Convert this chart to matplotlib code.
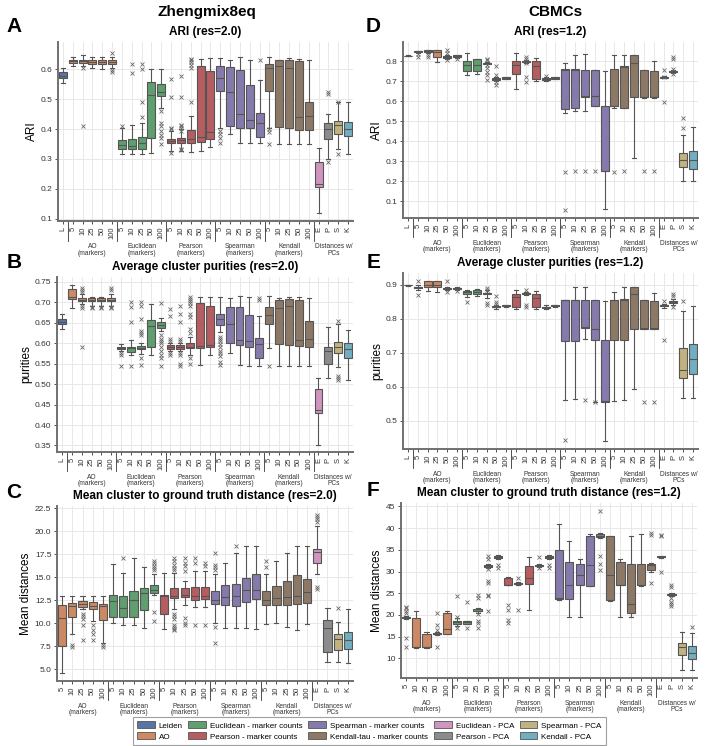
import matplotlib
matplotlib.use("Agg")
import matplotlib.pyplot as plt
from matplotlib.patches import Patch
import seaborn as sns

plt.rcParams["font.family"] = ["Liberation Sans", "DejaVu Sans"]

# ---------------- categories ----------------
marker_counts = ["5", "10", "25", "50", "100"]
labels_l = ["L"] + marker_counts * 5 + ["E", "P", "S", "K"]
labels_nol = marker_counts * 5 + ["E", "P", "S", "K"]
group_names = ["AO\n(markers)", "Euclidean\n(markers)", "Pearson\n(markers)",
               "Spearman\n(markers)", "Kendall\n(markers)", "Distances w/\nPCs"]
legend_names = ["Leiden", "AO", "Euclidean - marker counts", "Pearson - marker counts",
                "Spearman - marker counts", "Kendall-tau - marker counts",
                "Euclidean - PCA", "Pearson - PCA", "Spearman - PCA", "Kendall - PCA"]
palette = ["#4C72B0", "#DD8452", "#55A868", "#C44E52", "#8172B3",
           "#937860", "#DA8BC3", "#8C8C8C", "#CCB974", "#64B5CD"]

# ---------------- A: ARI (res=2.0), Zhengmix8eq ----------------
a_med = [0.578,
         0.627, 0.628, 0.625, 0.624, 0.625,
         0.348, 0.345, 0.352, 0.514, 0.523,
         0.360, 0.363, 0.368, 0.372, 0.390,
         0.572, 0.526, 0.450, 0.432, 0.419,
         0.604, 0.612, 0.606, 0.442, 0.445,
         0.215, 0.399, 0.415, 0.402]
a_q1 = [0.570, 0.620, 0.620, 0.618, 0.617, 0.618, 0.335, 0.333, 0.335, 0.370, 0.512,
        0.352, 0.355, 0.355, 0.357, 0.367, 0.527, 0.412, 0.405, 0.405, 0.372,
        0.528, 0.408, 0.405, 0.398, 0.397, 0.207, 0.368, 0.385, 0.377]
a_q3 = [0.593, 0.632, 0.633, 0.632, 0.632, 0.633, 0.365, 0.368, 0.375, 0.558, 0.550,
        0.368, 0.370, 0.397, 0.612, 0.594, 0.610, 0.607, 0.597, 0.548, 0.455,
        0.617, 0.632, 0.632, 0.628, 0.492, 0.290, 0.420, 0.428, 0.423]
a_lo = [0.553, 0.610, 0.612, 0.605, 0.603, 0.605, 0.315, 0.315, 0.315, 0.320, 0.470,
        0.325, 0.327, 0.323, 0.325, 0.340, 0.405, 0.385, 0.355, 0.352, 0.352,
        0.405, 0.350, 0.350, 0.350, 0.350, 0.120, 0.300, 0.335, 0.318]
a_hi = [0.605, 0.643, 0.647, 0.643, 0.643, 0.643, 0.405, 0.415, 0.420, 0.601, 0.601,
        0.395, 0.400, 0.445, 0.636, 0.640, 0.640, 0.633, 0.643, 0.633, 0.563,
        0.643, 0.632, 0.638, 0.635, 0.633, 0.338, 0.452, 0.490, 0.490]
a_out = [[], [], [0.606, 0.41], [], [], [0.655, 0.598, 0.592],
         [0.412], [0.617, 0.588], [0.617, 0.6, 0.49, 0.44], [],
         [0.46, 0.42, 0.41, 0.395, 0.38, 0.37, 0.35],
         [0.567, 0.507, 0.405, 0.4, 0.32], [0.577, 0.507, 0.415, 0.41, 0.405, 0.395, 0.335, 0.33],
         [0.635, 0.63, 0.625, 0.615, 0.605, 0.49], [], [],
         [0.395, 0.385, 0.37, 0.355], [], [], [], [0.632],
         [0.4, 0.39, 0.35], [], [], [], [],
         [], [0.525, 0.518, 0.29], [0.49, 0.318], []]

# ---------------- B: purities (res=2.0) ----------------
b_med = [0.653,
         0.712, 0.706, 0.706, 0.706, 0.706,
         0.589, 0.588, 0.589, 0.642, 0.645,
         0.590, 0.590, 0.592, 0.593, 0.595,
         0.660, 0.647, 0.608, 0.605, 0.598,
         0.670, 0.686, 0.690, 0.608, 0.611,
         0.436, 0.580, 0.592, 0.587]
b_q1 = [0.647, 0.707, 0.703, 0.703, 0.703, 0.703, 0.585, 0.578, 0.585, 0.592, 0.638,
        0.587, 0.587, 0.588, 0.588, 0.590, 0.645, 0.600, 0.596, 0.590, 0.563,
        0.648, 0.597, 0.596, 0.593, 0.592, 0.430, 0.548, 0.575, 0.563]
b_q3 = [0.660, 0.733, 0.710, 0.710, 0.710, 0.711, 0.592, 0.592, 0.593, 0.658, 0.653,
        0.595, 0.595, 0.600, 0.698, 0.692, 0.672, 0.688, 0.688, 0.668, 0.613,
        0.688, 0.706, 0.708, 0.706, 0.655, 0.488, 0.590, 0.603, 0.601]
b_lo = [0.635, 0.685, 0.695, 0.690, 0.690, 0.690, 0.580, 0.572, 0.573, 0.572, 0.630,
        0.580, 0.580, 0.572, 0.547, 0.572, 0.628, 0.575, 0.547, 0.545, 0.545,
        0.588, 0.545, 0.545, 0.545, 0.545, 0.350, 0.515, 0.542, 0.510]
b_hi = [0.672, 0.743, 0.720, 0.714, 0.714, 0.720, 0.598, 0.607, 0.600, 0.695, 0.662,
        0.600, 0.600, 0.615, 0.712, 0.712, 0.713, 0.710, 0.716, 0.713, 0.667,
        0.715, 0.710, 0.713, 0.713, 0.710, 0.515, 0.640, 0.647, 0.632]
b_out = [[], [], [0.735, 0.73, 0.725, 0.69, 0.685, 0.592], [0.688, 0.685], [0.688, 0.685],
         [0.735, 0.73, 0.688, 0.685],
         [0.575, 0.572, 0.544], [0.702, 0.688, 0.652, 0.545],
         [0.702, 0.69, 0.66, 0.63, 0.625, 0.62, 0.565, 0.547], [],
         [0.698, 0.62, 0.61, 0.605, 0.6, 0.59, 0.58, 0.572, 0.565, 0.545],
         [0.683, 0.667, 0.61, 0.605, 0.575, 0.572],
         [0.69, 0.672, 0.652, 0.61, 0.605, 0.575, 0.572, 0.548, 0.545],
         [0.712, 0.708, 0.703, 0.698, 0.69, 0.672, 0.665, 0.635, 0.625, 0.565, 0.548], [], [],
         [0.615, 0.61, 0.605, 0.598, 0.59, 0.582, 0.575, 0.568, 0.555, 0.547], [], [], [],
         [0.71, 0.705],
         [0.545], [], [], [], [],
         [], [], [0.655, 0.52, 0.515, 0.51], []]

# ---------------- C: mean distances (res=2.0) ----------------
c_med = [10.6, 11.9, 12.1, 11.9, 11.9,
         12.4, 11.6, 12.5, 13.3, 13.6,
         12.9, 13.0, 13.1, 13.0, 13.0,
         12.5, 12.8, 12.9, 13.6, 13.6,
         12.5, 12.7, 12.8, 12.9, 13.4,
         17.7, 9.5, 8.3, 8.2]
c_q1 = [7.5, 10.7, 11.8, 11.5, 10.3, 10.7, 10.7, 10.7, 11.4, 13.3, 11.0, 12.7, 12.8, 12.5, 12.6,
        12.1, 12.0, 11.9, 12.3, 12.6, 12.0, 12.0, 12.0, 12.1, 12.2, 16.5, 6.9, 7.1, 7.2]
c_q3 = [12.0, 12.2, 12.4, 12.3, 12.1, 13.1, 13.0, 13.5, 13.8, 14.2, 13.1, 13.8, 13.8, 13.9, 13.9,
        13.5, 14.2, 14.3, 14.9, 15.4, 13.5, 14.0, 14.6, 15.2, 14.8, 18.1, 10.3, 8.8, 9.0]
c_lo = [4.6, 8.8, 11.5, 10.2, 7.8, 10.0, 9.8, 9.8, 9.5, 13.1, 9.4, 11.5, 12.0, 11.8, 11.8,
        10.0, 9.5, 9.5, 9.5, 9.4, 9.9, 10.0, 9.6, 9.2, 9.9, 15.4, 5.8, 5.8, 5.7]
c_hi = [13.0, 13.0, 13.0, 13.0, 13.0, 16.4, 15.5, 17.1, 16.1, 15.4, 15.5, 15.5, 14.6, 15.7, 15.7,
        15.4, 16.5, 17.6, 18.4, 18.4, 15.4, 16.8, 17.6, 18.4, 18.4, 20.6, 11.7, 10.1, 11.5]
c_out = [[], [7.6, 7.4], [11.0, 10.8, 10.5, 9.8, 8.2], [9.8, 9.2, 8.8, 8.2], [7.6, 7.4],
         [], [17.1], [], [], [16.8, 16.5, 16.2, 16.0, 15.8, 11.2, 10.2],
         [], [17.1, 16.8, 16.3, 16.0, 15.8, 11.0, 10.8, 10.5, 9.8, 9.6, 9.4, 9.2],
         [17.1, 16.5, 16.2, 15.7, 10.6, 10.0, 9.8], [17.1, 16.5, 9.8], [16.5, 16.2, 9.8],
         [17.6, 16.3, 16.1, 15.8, 9.6, 7.8], [], [18.4], [], [],
         [16.8, 16.1], [], [], [], [],
         [21.8, 21.6, 21.3, 21.0, 13.9, 13.7], [], [11.6], []]

# ---------------- D: ARI (res=1.2), CBMCs ----------------
d_med = [0.828,
         0.850, 0.850, 0.845, 0.822, 0.827,
         0.780, 0.780, 0.790, 0.712, 0.718,
         0.783, 0.797, 0.775, 0.712, 0.718,
         0.755, 0.757, 0.625, 0.624, 0.252,
         0.575, 0.770, 0.792, 0.620, 0.622,
         0.720, 0.747, 0.305, 0.305]
d_q1 = [0.826, 0.845, 0.845, 0.823, 0.818, 0.820, 0.750, 0.752, 0.788, 0.707, 0.712,
        0.738, 0.795, 0.712, 0.707, 0.712, 0.563, 0.568, 0.623, 0.575, 0.250,
        0.575, 0.568, 0.622, 0.620, 0.620, 0.718, 0.745, 0.270, 0.260]
d_q3 = [0.829, 0.852, 0.855, 0.855, 0.826, 0.830, 0.800, 0.810, 0.792, 0.717, 0.720,
        0.800, 0.800, 0.800, 0.717, 0.720, 0.760, 0.762, 0.758, 0.757, 0.575,
        0.760, 0.775, 0.833, 0.757, 0.750, 0.722, 0.750, 0.342, 0.352]
d_lo = [0.826, 0.840, 0.840, 0.797, 0.810, 0.815, 0.730, 0.735, 0.785, 0.700, 0.710,
        0.660, 0.790, 0.700, 0.700, 0.710, 0.540, 0.552, 0.553, 0.575, 0.060,
        0.565, 0.568, 0.315, 0.615, 0.615, 0.715, 0.740, 0.200, 0.200]
d_hi = [0.830, 0.853, 0.857, 0.857, 0.830, 0.830, 0.840, 0.810, 0.795, 0.720, 0.720,
        0.840, 0.805, 0.815, 0.720, 0.720, 0.790, 0.830, 0.835, 0.757, 0.750,
        0.830, 0.833, 0.833, 0.757, 0.800, 0.725, 0.755, 0.430, 0.470]
d_out = [[], [0.835, 0.82], [0.83, 0.82], [], [0.855, 0.84, 0.805], [0.81],
         [], [], [0.81, 0.805, 0.78, 0.768, 0.745, 0.73, 0.705], [0.775, 0.73, 0.695, 0.68], [],
         [], [0.82, 0.812, 0.79, 0.72, 0.695], [], [0.725], [],
         [0.245, 0.055], [0.25], [0.25], [0.25], [],
         [0.245], [0.25], [], [0.25], [0.25],
         [0.755, 0.72, 0.595], [0.822, 0.812, 0.76, 0.735], [0.518, 0.465], []]

# ---------------- E: purities (res=1.2) ----------------
e_med = [0.900,
         0.893, 0.900, 0.900, 0.890, 0.890,
         0.878, 0.879, 0.875, 0.836, 0.839,
         0.865, 0.875, 0.862, 0.834, 0.839,
         0.856, 0.856, 0.775, 0.770, 0.557,
         0.855, 0.855, 0.874, 0.772, 0.772,
         0.840, 0.851, 0.650, 0.682]
e_q1 = [0.899, 0.890, 0.895, 0.895, 0.889, 0.889, 0.872, 0.872, 0.872, 0.834, 0.837,
        0.835, 0.872, 0.835, 0.832, 0.837, 0.735, 0.735, 0.772, 0.737, 0.555,
        0.737, 0.737, 0.770, 0.770, 0.770, 0.837, 0.848, 0.627, 0.638]
e_q3 = [0.900, 0.895, 0.910, 0.910, 0.892, 0.892, 0.882, 0.885, 0.877, 0.838, 0.840,
        0.873, 0.877, 0.873, 0.836, 0.840, 0.857, 0.857, 0.857, 0.857, 0.737,
        0.857, 0.858, 0.893, 0.857, 0.853, 0.842, 0.853, 0.715, 0.727]
e_lo = [0.898, 0.885, 0.882, 0.880, 0.885, 0.885, 0.865, 0.868, 0.862, 0.830, 0.836,
        0.830, 0.870, 0.830, 0.828, 0.836, 0.560, 0.563, 0.742, 0.555, 0.440,
        0.557, 0.562, 0.595, 0.770, 0.770, 0.833, 0.840, 0.567, 0.567]
e_hi = [0.901, 0.900, 0.910, 0.910, 0.895, 0.893, 0.885, 0.888, 0.885, 0.840, 0.840,
        0.885, 0.880, 0.882, 0.840, 0.840, 0.857, 0.895, 0.895, 0.857, 0.852,
        0.880, 0.895, 0.893, 0.857, 0.875, 0.845, 0.858, 0.822, 0.838]
e_out = [[], [0.91, 0.87], [], [], [0.912, 0.88], [0.882],
         [0.85], [], [0.89, 0.885, 0.848, 0.84], [0.868, 0.85, 0.845], [],
         [], [0.885, 0.84, 0.835], [], [], [],
         [0.443], [], [0.56], [0.555], [],
         [], [], [], [0.555], [0.555],
         [0.853, 0.737], [0.873, 0.867, 0.835], [0.853], []]

# ---------------- F: mean distances (res=1.2) ----------------
f_med = [19.4, 12.6, 12.6, 15.7, 16.8,
         18.3, 18.3, 21.0, 31.3, 33.4,
         27.0, 27.2, 28.6, 31.3, 33.4,
         23.9, 26.8, 29.3, 31.6, 38.3,
         29.3, 26.8, 22.6, 26.8, 31.6,
         33.4, 24.7, 12.6, 11.2]
f_q1 = [19.3, 12.5, 12.5, 15.5, 15.7, 18.0, 18.0, 20.8, 31.1, 33.2, 27.0, 27.1, 27.2, 31.2, 33.2,
        23.7, 23.7, 26.8, 26.7, 38.0, 23.5, 26.8, 20.5, 26.8, 30.3, 33.3, 24.6, 10.8, 9.8]
f_q3 = [19.6, 19.3, 15.6, 15.9, 20.5, 18.5, 18.5, 21.4, 31.5, 33.6, 28.5, 27.4, 31.3, 31.5, 33.6,
        35.0, 32.3, 31.8, 38.1, 38.6, 38.1, 32.1, 31.7, 31.8, 31.8, 33.5, 24.9, 13.6, 12.8]
f_lo = [19.0, 12.4, 12.4, 15.3, 15.6, 17.5, 17.8, 20.5, 30.9, 33.0, 27.0, 27.0, 21.1, 31.0, 33.0,
        23.5, 19.4, 19.4, 26.7, 37.8, 23.3, 19.4, 19.4, 26.7, 30.0, 33.2, 24.4, 7.3, 7.3]
f_hi = [19.8, 21.0, 16.0, 16.0, 20.9, 19.3, 18.7, 21.6, 31.8, 33.9, 28.8, 27.6, 33.4, 31.8, 33.9,
        41.0, 37.1, 33.0, 38.7, 38.8, 38.2, 32.8, 38.2, 38.7, 32.0, 33.6, 25.0, 16.0, 15.9]
f_out = [[21.8, 21.5, 21.0, 20.5, 14.6, 12.5], [], [], [20.5, 17.6, 16.5, 12.5], [],
         [24.3, 19.5, 17.0], [23.0, 17.0], [24.7, 23.8, 20.2, 18.6, 18.2, 17.0],
         [33.6, 32.8, 30.5, 27.8, 27.4, 24.7, 24.3, 21.0], [31.5, 30.9],
         [22.3, 21.2, 18.8, 18.2], [28.4, 21.2], [], [33.4, 30.8], [31.5, 30.9],
         [], [], [], [], [44.0, 33.6, 31.8, 30.3],
         [], [], [], [], [38.8, 38.4, 27.3],
         [38.5, 38.2, 29.8], [27.0, 26.4, 24.0, 23.0, 22.5, 22.0], [], [17.1]]

box_colors = [sns.desaturate(c, 0.75) for c in palette]
colors_l = [box_colors[0]] + [c for c in box_colors[1:6] for _ in range(5)] + box_colors[6:]
colors_nol = colors_l[1:]
line_col = "#555555"


def draw_panel(ax, med, q1, q3, lo, hi, out, with_leiden, title, ylabel, ylim, yticks):
    labels = labels_l if with_leiden else labels_nol
    colors = colors_l if with_leiden else colors_nol
    stats = [dict(med=m, q1=a, q3=b, whislo=l, whishi=h, fliers=f)
             for m, a, b, l, h, f in zip(med, q1, q3, lo, hi, out)]
    n = len(stats)
    bp = ax.bxp(stats, positions=range(n), widths=0.8, capwidths=0.4,
                patch_artist=True, showfliers=True,
                boxprops=dict(edgecolor=line_col, linewidth=0.8),
                whiskerprops=dict(color=line_col, linewidth=0.8),
                capprops=dict(color=line_col, linewidth=0.8),
                medianprops=dict(color=line_col, linewidth=0.8),
                flierprops=dict(marker="x", markersize=2.5, markeredgecolor="#6a6a6a",
                                markeredgewidth=0.6))
    for patch, c in zip(bp["boxes"], colors):
        patch.set_facecolor(c)

    ax.set_xlim(-0.5, n - 0.5)
    ax.set_ylim(*ylim)
    ax.set_yticks(yticks)
    ax.set_xticks(range(n))
    ax.set_xticklabels(labels, rotation=90, fontsize=5.5)
    ax.tick_params(axis="y", labelsize=6, length=2.5, width=0.6, pad=1.5, colors="#333333")
    ax.tick_params(axis="x", length=2.5, width=0.6, pad=1.5, colors="#333333")
    ax.grid(True, color="#e8e8e8", linewidth=0.7)
    ax.set_axisbelow(True)
    for s in ["top", "right"]:
        ax.spines[s].set_visible(False)
    for s in ["left", "bottom"]:
        ax.spines[s].set_color("#707070")
        ax.spines[s].set_linewidth(1.4)
    ax.set_title(title, fontsize=8.5, fontweight="bold", pad=5)
    ax.set_ylabel(ylabel, fontsize=8.5, labelpad=2)

    # group separators and group labels under the axis
    start = 1 if with_leiden else 0
    trans = ax.get_xaxis_transform()
    seps = ([0.5] if with_leiden else []) + [start + 5 * k + 4.5 for k in range(5)]
    for x in seps:
        ax.plot([x, x], [0, -0.11], transform=trans, clip_on=False,
                color="#333333", linewidth=0.6)
    for k, name in enumerate(group_names):
        if k < 5:
            cx = start + 5 * k + 2
        else:
            cx = start + 25 + 1.5
        ax.text(cx, -0.125, name, transform=trans, ha="center", va="top",
                fontsize=4.8, linespacing=0.85, color="#333333")


fig = plt.figure(figsize=(7.05, 7.46), dpi=100)
W, H = 705, 746


def add_ax(left, right, top, bottom):
    return fig.add_axes([left / W, 1 - bottom / H, (right - left) / W, (bottom - top) / H])


ax_a = add_ax(58, 353, 42, 221)
ax_b = add_ax(57, 353, 277, 452)
ax_c = add_ax(57, 353, 506, 681)
ax_d = add_ax(403, 698, 42, 218)
ax_e = add_ax(403, 698, 273, 449)
ax_f = add_ax(401, 697, 503, 678)

draw_panel(ax_a, a_med, a_q1, a_q3, a_lo, a_hi, a_out, True, "ARI (res=2.0)", "ARI",
           (0.092, 0.692), [0.1, 0.2, 0.3, 0.4, 0.5, 0.6])
draw_panel(ax_b, b_med, b_q1, b_q3, b_lo, b_hi, b_out, True,
           "Average cluster purities (res=2.0)", "purities",
           (0.334, 0.762), [0.35, 0.40, 0.45, 0.50, 0.55, 0.60, 0.65, 0.70, 0.75])
draw_panel(ax_c, c_med, c_q1, c_q3, c_lo, c_hi, c_out, False,
           "Mean cluster to ground truth distance (res=2.0)", "Mean distances",
           (3.7, 22.75), [5.0, 7.5, 10.0, 12.5, 15.0, 17.5, 20.0, 22.5])
draw_panel(ax_d, d_med, d_q1, d_q3, d_lo, d_hi, d_out, True, "ARI (res=1.2)", "ARI",
           (0.015, 0.897), [0.1, 0.2, 0.3, 0.4, 0.5, 0.6, 0.7, 0.8])
draw_panel(ax_e, e_med, e_q1, e_q3, e_lo, e_hi, e_out, True,
           "Average cluster purities (res=1.2)", "purities",
           (0.417, 0.935), [0.5, 0.6, 0.7, 0.8, 0.9])
draw_panel(ax_f, f_med, f_q1, f_q3, f_lo, f_hi, f_out, False,
           "Mean cluster to ground truth distance (res=1.2)", "Mean distances",
           (5.45, 45.8), [10, 15, 20, 25, 30, 35, 40, 45])

# column headers and panel letters
fig.text(207 / W, 1 - 12 / H, "Zhengmix8eq", ha="center", va="center",
         fontsize=11, fontweight="bold")
fig.text(555 / W, 1 - 12 / H, "CBMCs", ha="center", va="center",
         fontsize=11, fontweight="bold")
for letter, x, y in [("A", 14, 26), ("B", 14, 263), ("C", 14, 492),
                     ("D", 373, 26), ("E", 374, 263), ("F", 373, 490)]:
    fig.text(x / W, 1 - y / H, letter, ha="center", va="center",
             fontsize=15, fontweight="bold")

handles = [Patch(facecolor=c, edgecolor=line_col, linewidth=0.6) for c in box_colors]
leg = fig.legend(handles, legend_names, loc="center", bbox_to_anchor=(0.524, 1 - 731 / H),
                 ncol=5, fontsize=5.8, frameon=True, fancybox=False, handlelength=2.2,
                 handleheight=0.9, columnspacing=0.7, handletextpad=0.5, labelspacing=0.35,
                 borderpad=0.5)
leg.get_frame().set_edgecolor("#888888")
leg.get_frame().set_linewidth(0.8)

fig.savefig("out.png", dpi=100)
